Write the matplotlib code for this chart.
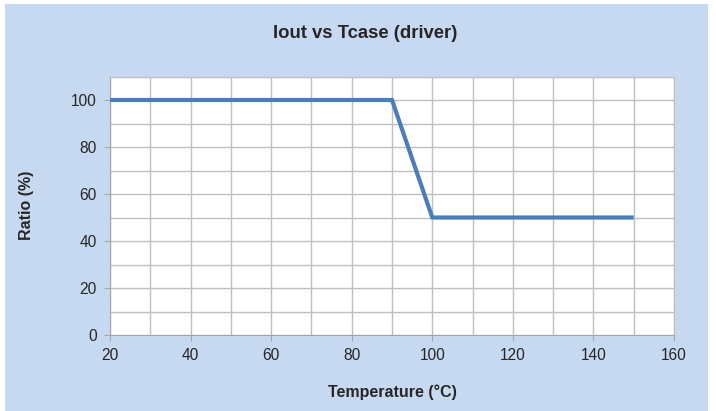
import matplotlib
matplotlib.use("Agg")
import matplotlib.pyplot as plt
from matplotlib.patches import Rectangle
from matplotlib.ticker import MultipleLocator

temperature = [20, 90, 100, 150]
ratio = [100, 100, 50, 50]
x_ticks = [20, 40, 60, 80, 100, 120, 140, 160]
y_ticks = [0, 20, 40, 60, 80, 100]

plt.rcParams['font.family'] = ['Liberation Sans', 'DejaVu Sans']

fig = plt.figure(figsize=(7.16, 4.11), dpi=100)
fig.patch.set_facecolor('white')
fig.patches.append(Rectangle((5/716, 0), 703/716, 407/411,
                             transform=fig.transFigure, facecolor='#C6D9F0',
                             edgecolor='none', zorder=-10))

ax = fig.add_axes([110/716, 1 - 335/411, (674 - 110)/716, (335 - 76.5)/411])
ax.set_zorder(1)
ax.set_facecolor('white')
ax.plot(temperature, ratio, color='#4A7EBB', lw=3.0, solid_capstyle='butt',
        solid_joinstyle='miter', zorder=3)
ax.set_xlim(20, 160)
ax.set_ylim(0, 110)
ax.set_xticks(x_ticks)
ax.set_yticks(y_ticks)
ax.xaxis.set_minor_locator(MultipleLocator(10))
ax.yaxis.set_minor_locator(MultipleLocator(10))
ax.grid(which='both', color='#BFBFBF', lw=1.0)
ax.set_axisbelow(True)
ax.tick_params(which='major', length=4.5, color='#A6A6A6', labelsize=11.2,
               labelcolor='#262626')
ax.tick_params(axis='x', which='major', pad=5)
ax.tick_params(axis='y', which='major', pad=5)
ax.tick_params(which='minor', length=0)
for side in ['left', 'bottom']:
    ax.spines[side].set_color('#A6A6A6')
for side in ['top', 'right']:
    ax.spines[side].set_color('#BFBFBF')

ax.set_xlabel('Temperature (°C)', fontsize=11.5, fontweight='bold',
              color='#262626', labelpad=15)
ax.set_ylabel('Ratio (%)', fontsize=11.5, fontweight='bold',
              color='#262626', labelpad=27)
fig.text(365 / 716, 1 - 33/411, 'Iout vs Tcase (driver)',
         ha='center', va='center', fontsize=13.3, fontweight='bold', color='#262626')

fig.savefig('out.png', dpi=100)
